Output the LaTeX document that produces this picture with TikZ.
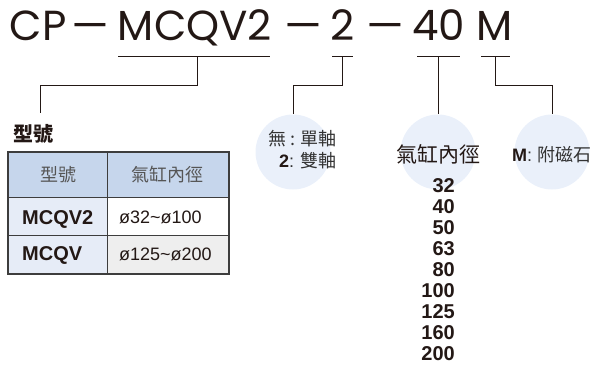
\documentclass[tikz,border=0pt]{standalone}
\usepackage{fontspec}
\usepackage{graphicx}
\setmainfont{Liberation Sans}
\newfontfamily\titlefont{Poppins}
\newfontfamily\cjk{Noto Sans CJK TC}
\definecolor{ink}{HTML}{231815}
\definecolor{txtgray}{HTML}{333333}
\definecolor{hdrgray}{HTML}{555555}
\definecolor{tblline}{HTML}{3D3D3D}
\definecolor{hdrfill}{HTML}{C6D6EC}
\definecolor{bodyblue}{HTML}{E6ECF7}
\definecolor{bodygray}{HTML}{EEEEEE}
\definecolor{circfill}{HTML}{EAF0FA}
\newcommand{\tdash}{\scalebox{1.4}[1]{–}}
\tikzset{
  tt/.style={font=\titlefont\fontsize{42}{42}\selectfont, inner sep=0pt, anchor=base, text=ink},
  conn/.style={draw=ink, line width=1pt},
  circ/.style={circle, fill=circfill, minimum size=75pt, inner sep=0pt},
  cell/.style={draw=tblline, line width=1.2pt, anchor=north west, inner sep=0pt},
  lbl/.style={inner sep=0pt, anchor=base},
}
\begin{document}
\begin{tikzpicture}[x=1pt,y=-1pt]
\useasboundingbox (0,0) rectangle (595,369);
% title tokens
\node[tt] (cp) at (38,41) {CP};
\node[tt] (d1) at (90,41) {\tdash};
\node[tt] (model) at (195,41) {MCQV2};
\node[tt] (d2) at (303,41) {\tdash};
\node[tt] (shaft) at (343,41) {2};
\node[tt] (d3) at (385,41) {\tdash};
\node[tt] (bore) at (438.5,41) {40};
\node[tt] (mag) at (495,41) {M};
% underline coordinates
\coordinate (u1a) at (118,57); \coordinate (u1b) at (270,57); \coordinate (u1m) at (197,57);
\coordinate (u2a) at (332,57); \coordinate (u2b) at (353,57); \coordinate (u2m) at (342,57);
\coordinate (u3a) at (417,57); \coordinate (u3b) at (460,57); \coordinate (u3m) at (438,57);
\coordinate (u4a) at (481,57); \coordinate (u4b) at (510,57); \coordinate (u4m) at (495,57);
\coordinate (k1) at (40,113);
% circles
\node[circ] (c1) at (293,152) {};
\node[circ] (c2) at (438,152) {};
\node[circ] (c3) at (552,152) {};
% connectors
\draw[conn] (u1a) -- (u1b);
\draw[conn] (u1m) -- (197,86) -| (k1);
\draw[conn] (u2a) -- (u2b);
\draw[conn] (u2m) -- (342,86) -| (c1.north);
\draw[conn] (u3a) -- (u3b);
\draw[conn] (u3m) -- (c2.north);
\draw[conn] (u4a) -- (u4b);
\draw[conn] (u4m) -- (495,86) -| (c3.north);
% circle texts
\node[lbl, anchor=base east, text=txtgray] (t1a) at (337,146) {\cjk\fontsize{18}{18}\selectfont 無 : 單軸};
\node[lbl, anchor=base east, text=txtgray] (t1b) at (337,167) {\fontsize{18}{18}\selectfont{\bfseries\color{ink}2}: {\cjk 雙軸}};
\node[lbl, text=ink] (t2) at (438,162) {\cjk\fontsize{21}{21}\selectfont 氣缸內徑};
\node[lbl, anchor=base west, text=txtgray] (t3) at (512,161) {\fontsize{18}{18}\selectfont{\bfseries\color{ink}M}: {\cjk 附磁石}};
% bore list
\foreach \v [count=\i from 0] in {32,40,50,63,80,100,125,160,200}{
  \node[lbl, anchor=base east, text=ink, font=\bfseries\fontsize{20}{20}\selectfont] (n\v) at (455,{192+21*\i}) {\v};
}
% table title
\node[lbl, text=ink] (ttl) at (33,141.5) {\cjk\bfseries\fontsize{20}{20}\selectfont 型號};
% table
\node[cell, fill=hdrfill, minimum width=99pt, minimum height=45pt] (h1) at (8,152) {};
\node[cell, fill=hdrfill, minimum width=121pt, minimum height=45pt] (h2) at (107,152) {};
\node[cell, fill=bodyblue, minimum width=99pt, minimum height=38pt] (r1a) at (8,197) {};
\node[cell, fill=white, minimum width=121pt, minimum height=38pt] (r1b) at (107,197) {};
\node[cell, fill=bodyblue, minimum width=99pt, minimum height=38pt] (r2a) at (8,235) {};
\node[cell, fill=bodygray, minimum width=121pt, minimum height=38pt] (r2b) at (107,235) {};
\draw[draw=tblline, line width=1.6pt] (h1.north west) rectangle (r2b.south east);
\node[lbl, text=hdrgray] (hx1) at (58,181) {\cjk\fontsize{18}{18}\selectfont 型號};
\node[lbl, text=hdrgray] (hx2) at (167,181) {\cjk\fontsize{18}{18}\selectfont 氣缸內徑};
\node[lbl, anchor=base west, text=ink] (m1) at (22,224) {\bfseries\fontsize{20}{20}\selectfont MCQV2};
\node[lbl, anchor=base west, text=ink] (m2) at (22,260) {\bfseries\fontsize{20}{20}\selectfont MCQV};
\node[lbl, anchor=base west, text=ink] (b1) at (119,223) {\fontsize{18}{18}\selectfont ø32\char`~ø100};
\node[lbl, anchor=base west, text=ink] (b2) at (119,260) {\fontsize{18}{18}\selectfont ø125\char`~ø200};
\end{tikzpicture}
\end{document}
